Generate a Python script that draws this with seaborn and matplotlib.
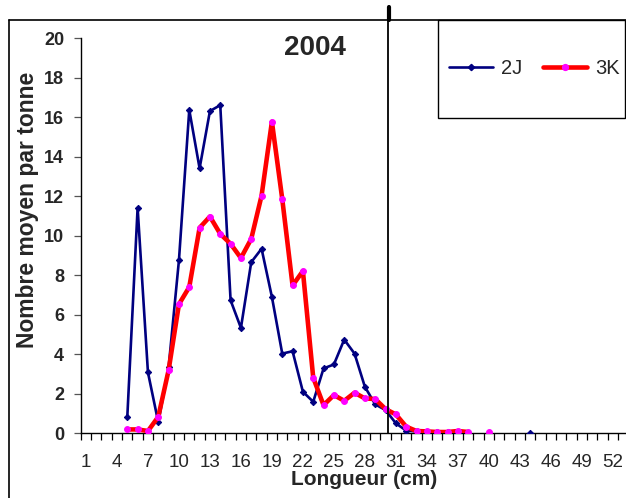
import numpy as np
import pandas as pd
import matplotlib
matplotlib.use("Agg")
import matplotlib.pyplot as plt
from matplotlib.lines import Line2D
from matplotlib.patches import Rectangle
import seaborn as sns

# ---------------- data ----------------
lengths = list(range(5, 45))
series_2J = [0.8, 11.4, 3.07, 0.54, 3.32, 8.74, 16.36, 13.4, 16.3, 16.6,
             6.72, 5.32, 8.65, 9.33, 6.89, 4.02, 4.14, 2.09, 1.58, 3.27,
             3.47, 4.73, 4.02, 2.34, 1.45, 1.16, 0.49, 0.12, 0.08, 0.06,
             0.05, 0.03, 0.02, 0.01, np.nan, np.nan, np.nan, np.nan, np.nan, 0.02]
series_3K = [0.18, 0.18, 0.1, 0.82, 3.18, 6.52, 7.39, 10.39, 10.96, 10.08,
             9.58, 8.86, 9.83, 12.02, 15.76, 11.85, 7.47, 8.2, 2.8, 1.41,
             1.92, 1.63, 2.04, 1.75, 1.72, 1.21, 0.94, 0.32, 0.1, 0.08,
             0.05, 0.05, 0.1, 0.05, np.nan, 0.03, np.nan, np.nan, np.nan, np.nan]
n_categories = 53
xtick_labels = list(range(1, 53, 3))
yticks = list(range(0, 21, 2))
title = "2004"
series_names = ["2J", "3K"]

# ---------------- style ----------------
sns.set_style("white")
plt.rcParams["font.family"] = ["Liberation Sans", "DejaVu Sans"]

W, H = 626, 498
fig = plt.figure(figsize=(W / 100, H / 100), dpi=100)
ax_left, ax_right, ax_bottom, ax_top = 80.8, 628.3, 433, 38
ax = fig.add_axes([ax_left / W, 1 - ax_bottom / H,
                   (ax_right - ax_left) / W, (ax_bottom - ax_top) / H])

df = pd.DataFrame({"Longueur": lengths, "2J": series_2J, "3K": series_3K})

styles = {
    "2J": dict(color="#000080", lw=1.9, marker="D", ms=3.2, mfc="#000080",
               mec="#000080", zorder=3),
    "3K": dict(color="#FF0000", lw=3.3, marker="o", ms=4.2, mfc="#FF00FF",
               mec="#FF00FF", zorder=4),
}


def segments(x, y):
    x = np.asarray(x, float)
    y = np.asarray(y, float)
    ok = ~np.isnan(y)
    runs, cur = [], []
    for xi, yi, k in zip(x, y, ok):
        if k:
            cur.append((xi, yi))
        elif cur:
            runs.append(cur)
            cur = []
    if cur:
        runs.append(cur)
    return runs


for name in series_names:
    st = styles[name]
    for run in segments(df["Longueur"], df[name]):
        xs = [p[0] for p in run]
        ys = [p[1] for p in run]
        sns.lineplot(x=xs, y=ys, ax=ax, estimator=None, sort=False,
                     color=st["color"], linewidth=st["lw"], marker=st["marker"],
                     markersize=st["ms"], markerfacecolor=st["mfc"],
                     markeredgecolor=st["mec"], zorder=st["zorder"],
                     legend=False)

ax.set_xlim(0.5, n_categories + 0.5)
ax.set_ylim(0, 20)

# axes / spines
for s in ["top", "right"]:
    ax.spines[s].set_visible(False)
for s in ["left", "bottom"]:
    ax.spines[s].set_color("black")
    ax.spines[s].set_linewidth(1.0)

ax.set_xticks(xtick_labels)
ax.set_xticklabels([str(v) for v in xtick_labels], fontsize=13.5)
ax.set_xticks(np.arange(0.5, n_categories + 1, 1), minor=True)
ax.tick_params(axis="x", which="major", length=0, pad=15)
ax.tick_params(axis="x", which="minor", length=5, width=0.9, direction="out",
               color="black", bottom=True)
ax.set_yticks(yticks)
ax.set_yticklabels([str(v) for v in yticks], fontsize=13, fontweight="bold")
ax.tick_params(axis="y", which="major", length=5, width=0.9, direction="out",
               color="#555555", pad=7, left=True)

ax.set_xlabel("Longueur (cm)", fontsize=15, fontweight="bold", va="center")
ax.xaxis.set_label_coords((364 - ax_left) / (ax_right - ax_left),
                          (ax_bottom - 479) / (ax_bottom - ax_top))
ax.set_ylabel("Nombre moyen par tonne", fontsize=16.5, fontweight="bold",
              va="center", ha="center")
ax.yaxis.set_label_coords((28 - ax_left) / (ax_right - ax_left),
                          (ax_bottom - 210) / (ax_bottom - ax_top))

# title
fig.text(315 / W, 1 - 48 / H, title, fontsize=20, fontweight="bold",
         ha="center", va="center")

# reference vertical line
span = ax_bottom - ax_top
ax.axvline(30.2, ymin=0, ymax=(ax_bottom - 20) / span, color="black",
           lw=1.3, clip_on=False, zorder=5)
ax.axvline(30.3, ymin=(ax_bottom - 20) / span, ymax=(ax_bottom - 7) / span,
           color="black", lw=3, clip_on=False, zorder=5)

# outer frame
fig.add_artist(Line2D([9 / W, 1], [1 - 20 / H, 1 - 20 / H], color="black", lw=1.2))
fig.add_artist(Line2D([9 / W, 9 / W], [0, 1 - 20 / H], color="black", lw=1.2))

# legend box
fig.add_artist(Rectangle((438 / W, 1 - 118 / H), (625 - 438) / W, (118 - 20) / H,
                         fill=False, edgecolor="black", lw=1.0,
                         transform=fig.transFigure))
handles = []
for name in series_names:
    st = styles[name]
    handles.append(Line2D([], [], color=st["color"], lw=st["lw"],
                          marker=st["marker"], ms=st["ms"],
                          mfc=st["mfc"], mec=st["mec"]))
fig.legend(handles, series_names, loc="center left",
           bbox_to_anchor=(449 / W, 1 - 69 / H), frameon=False, ncol=2,
           fontsize=14.5, handlelength=2.19, handletextpad=0.4,
           columnspacing=1.0, borderpad=0, borderaxespad=0, markerscale=1)

fig.savefig("out.png", dpi=100)
